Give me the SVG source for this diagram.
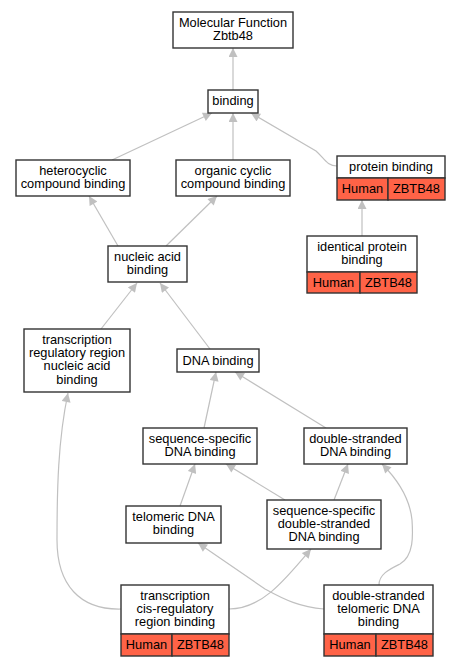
<svg xmlns="http://www.w3.org/2000/svg" width="461" height="667" viewBox="0 0 461 667">
<style>
.n{fill:#fff;stroke:#333;stroke-width:1.4}
.s{fill:#ff6347;stroke:#333;stroke-width:1.4}
.t{font-family:"Liberation Sans",Arial,sans-serif;font-size:12.8px;fill:#000;text-anchor:middle}
.e{fill:none;stroke:#c0c0c0;stroke-width:1.2;marker-end:url(#a)}
</style>
<defs>
<marker id="a" viewBox="0 0 10 10" markerWidth="10" markerHeight="9" refX="10" refY="5" markerUnits="userSpaceOnUse" orient="auto">
<path d="M0,0 L10,5 L0,10 z" fill="#c0c0c0"/>
</marker>
</defs>
<rect width="461" height="667" fill="#fff"/>
<g id="edges">
<path class="e" d="M233,90 L233,48"/>
<path class="e" d="M112,160 L212,113"/>
<path class="e" d="M233,160 L233,113"/>
<path class="e" d="M337,166 C327,166 324,158 316,151 L251,113"/>
<path class="e" d="M362,236 L362,200"/>
<path class="e" d="M118,246 L89,196"/>
<path class="e" d="M166,246 L217,196"/>
<path class="e" d="M101,329 L137,283"/>
<path class="e" d="M210,349 L160,283"/>
<path class="e" d="M204,428 L216,372"/>
<path class="e" d="M326,428 L235,372"/>
<path class="e" d="M180,506 L195,464"/>
<path class="e" d="M285,500 L226,464"/>
<path class="e" d="M334,500 L348,464"/>
<path class="e" d="M121,609 C80,610 57,585 57,540 C57,490 58,440 68,393"/>
<path class="e" d="M229,609 C262,609 285,580 311,549"/>
<path class="e" d="M324,609 C300,607 285,600 265,589 L198,543"/>
<path class="e" d="M379,585 C379,574 390,569 400,564 C414,556 413,535 412,520 C410,500 400,482 382,464"/>
</g>
<g id="mf"><rect class="n" x="173" y="12" width="120" height="36"/><text class="t" x="233" y="26.7">Molecular Function</text><text class="t" x="233" y="39.9">Zbtb48</text></g>
<g id="binding"><rect class="n" x="208" y="90" width="50" height="23"/><text class="t" x="233" y="105">binding</text></g>
<g id="heterocyclic"><rect class="n" x="16" y="160" width="114" height="36"/><text class="t" x="73" y="174.5">heterocyclic</text><text class="t" x="73" y="187.7">compound binding</text></g>
<g id="organic"><rect class="n" x="176" y="160" width="114" height="36"/><text class="t" x="233" y="174.5">organic cyclic</text><text class="t" x="233" y="187.7">compound binding</text></g>
<g id="protein"><rect class="n" x="337" y="156" width="108" height="22"/><text class="t" x="391" y="170.5">protein binding</text><rect class="s" x="337" y="178" width="51" height="22"/><rect class="s" x="388" y="178" width="57" height="22"/><text class="t" x="362.5" y="193">Human</text><text class="t" x="416.5" y="193">ZBTB48</text></g>
<g id="nucleic"><rect class="n" x="108" y="246" width="79" height="36"/><text class="t" x="147.5" y="260.5">nucleic acid</text><text class="t" x="147.5" y="273.7">binding</text></g>
<g id="identical"><rect class="n" x="307" y="236" width="110" height="36"/><text class="t" x="362" y="250.5">identical protein</text><text class="t" x="362" y="263.7">binding</text><rect class="s" x="307" y="272" width="53" height="21"/><rect class="s" x="360" y="272" width="57" height="21"/><text class="t" x="333.5" y="286.5">Human</text><text class="t" x="388.5" y="286.5">ZBTB48</text></g>
<g id="transreg"><rect class="n" x="24" y="329" width="106" height="63"/><text class="t" x="77" y="344">transcription</text><text class="t" x="77" y="357.2">regulatory region</text><text class="t" x="77" y="370.4">nucleic acid</text><text class="t" x="77" y="383.6">binding</text></g>
<g id="dna"><rect class="n" x="177" y="349" width="82" height="23"/><text class="t" x="218" y="364.5">DNA binding</text></g>
<g id="seqdna"><rect class="n" x="143" y="428" width="114" height="36"/><text class="t" x="200" y="442.5">sequence-specific</text><text class="t" x="200" y="455.7">DNA binding</text></g>
<g id="dsdna"><rect class="n" x="304" y="428" width="103" height="36"/><text class="t" x="355.5" y="442.5">double-stranded</text><text class="t" x="355.5" y="455.7">DNA binding</text></g>
<g id="telomeric"><rect class="n" x="126" y="506" width="95" height="37"/><text class="t" x="173.5" y="521">telomeric DNA</text><text class="t" x="173.5" y="534.2">binding</text></g>
<g id="seqds"><rect class="n" x="267" y="500" width="114" height="49"/><text class="t" x="324" y="514.5">sequence-specific</text><text class="t" x="324" y="527.7">double-stranded</text><text class="t" x="324" y="540.9">DNA binding</text></g>
<g id="cisreg"><rect class="n" x="121" y="585" width="108" height="49"/><text class="t" x="175" y="599.5">transcription</text><text class="t" x="175" y="612.7">cis-regulatory</text><text class="t" x="175" y="625.9">region binding</text><rect class="s" x="121" y="634" width="51" height="22"/><rect class="s" x="172" y="634" width="57" height="22"/><text class="t" x="146.5" y="649">Human</text><text class="t" x="200.5" y="649">ZBTB48</text></g>
<g id="dstelo"><rect class="n" x="324" y="585" width="109" height="49"/><text class="t" x="378.5" y="599.5">double-stranded</text><text class="t" x="378.5" y="612.7">telomeric DNA</text><text class="t" x="378.5" y="625.9">binding</text><rect class="s" x="324" y="634" width="52" height="22"/><rect class="s" x="376" y="634" width="57" height="22"/><text class="t" x="350" y="649">Human</text><text class="t" x="404.5" y="649">ZBTB48</text></g>
</svg>
